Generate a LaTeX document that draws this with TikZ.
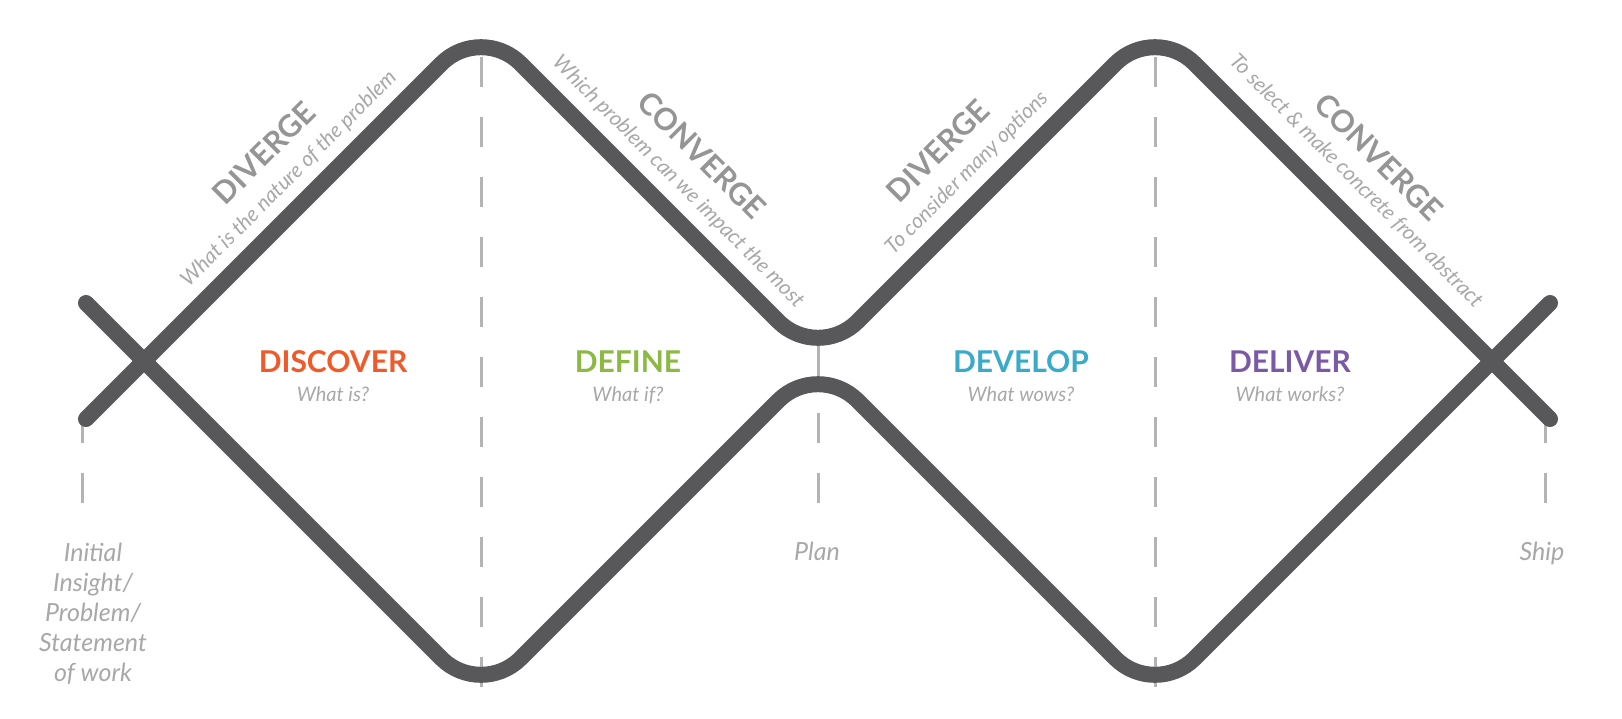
\documentclass[tikz,border=0pt]{standalone}
\usepackage{fontspec}
\setmainfont{Lato}
\definecolor{lineg}{HTML}{58585A}
\definecolor{dashg}{HTML}{B4B4B4}
\definecolor{titleg}{HTML}{959595}
\definecolor{subg}{HTML}{A8A8A8}
\definecolor{cdiscover}{HTML}{EF5A2A}
\definecolor{cdefine}{HTML}{8CB844}
\definecolor{cdevelop}{HTML}{3AAAC9}
\definecolor{cdeliver}{HTML}{7A5AA6}
\begin{document}
\begin{tikzpicture}[x=1pt,y=-1pt,
  wave/.style={draw=lineg,line width=16pt,line cap=round,line join=round,rounded corners=56pt},
  guide/.style={draw=dashg,line width=3pt,dash pattern=on 30pt off 30pt},
  guidesolid/.style={draw=dashg,line width=3pt},
  phase/.style={font=\fontsize{30}{33}\selectfont\bfseries,inner sep=0pt,anchor=base},
  ask/.style={font=\fontsize{20}{23}\selectfont\itshape,text=subg,inner sep=0pt,anchor=base},
  slopetitle/.style={font=\fontsize{30.5}{33}\selectfont\bfseries,text=titleg,inner sep=0pt},
  slopesub/.style={font=\fontsize{21}{24}\selectfont\itshape,text=subg,inner sep=0pt},
  foot/.style={font=\fontsize{25}{30}\selectfont\itshape,text=subg,inner sep=0pt}
]
\fill[white] (0,0) rectangle (1622,718);
\useasboundingbox (0,0) rectangle (1622,718);

% key points
\coordinate (SL1) at (86,303);
\coordinate (SL2) at (86,419);
\coordinate (SR1) at (1550,303);
\coordinate (SR2) at (1550,419);
\coordinate (P1) at (481,24);
\coordinate (V1) at (481,698);
\coordinate (M) at (818,361);
\coordinate (P2) at (1155,24);
\coordinate (V2) at (1155,698);

% guide lines
\coordinate (g1a) at (481,57);  \coordinate (g1b) at (481,690);
\coordinate (g2a) at (1155,57); \coordinate (g2b) at (1155,690);
\coordinate (gpa) at (818,344); \coordinate (gpb) at (818,380);
\coordinate (gpc) at (818,413); \coordinate (gpd) at (818,503);
\coordinate (gla) at (82,413);  \coordinate (glb) at (82,503);
\coordinate (gra) at (1545,413); \coordinate (grb) at (1545,503);
\draw[guide] (g1a) -- (g1b);
\draw[guide] (g2a) -- (g2b);
\draw[guidesolid] (gpa) -- (gpb);
\draw[guide] (gpc) -- (gpd);
\draw[guide] (gla) -- (glb);
\draw[guide] (gra) -- (grb);

% the two waves
\draw[wave] (SL1) -- (V1) -- (M) -- (V2) -- (SR1);
\draw[wave] (SL2) -- (P1) -- (M) -- (P2) -- (SR2);

% phases
\node[phase,text=cdiscover] (discover) at (333,372) {DISCOVER};
\node[ask] (qdiscover) at (333,401) {What is?};
\node[phase,text=cdefine] (define) at (628,372) {DEFINE};
\node[ask] (qdefine) at (628,401) {What if?};
\node[phase,text=cdevelop] (develop) at (1021,372) {DEVELOP};
\node[ask] (qdevelop) at (1021,401) {What wows?};
\node[phase,text=cdeliver] (deliver) at (1290,372) {DELIVER};
\node[ask] (qdeliver) at (1290,401) {What works?};

% sloped labels
\node[slopetitle,rotate=45] (div1) at (264,153) {DIVERGE};
\node[slopesub,rotate=45] (div1s) at (289,179) {What is the nature of the problem};
\node[slopetitle,rotate=-45] (con1) at (702,155) {CONVERGE};
\node[slopesub,rotate=-45] (con1s) at (678,182) {Which problem can we impact the most};
\node[slopetitle,rotate=45] (div2) at (938,151) {DIVERGE};
\node[slopesub,rotate=45] (div2s) at (967,173) {To consider many options};
\node[slopetitle,rotate=-45] (con2) at (1379,157) {CONVERGE};
\node[slopesub,rotate=-45] (con2s) at (1356,181) {To select \& make concrete from abstract};

% milestones
\node[foot,anchor=north,align=center] (start) at (93,543) {Initial\\Insight/\\Problem/\\Statement\\of work};
\node[foot,anchor=base] (plan) at (817,560) {Plan};
\node[foot,anchor=base] (ship) at (1542,560) {Ship};
\end{tikzpicture}
\end{document}
